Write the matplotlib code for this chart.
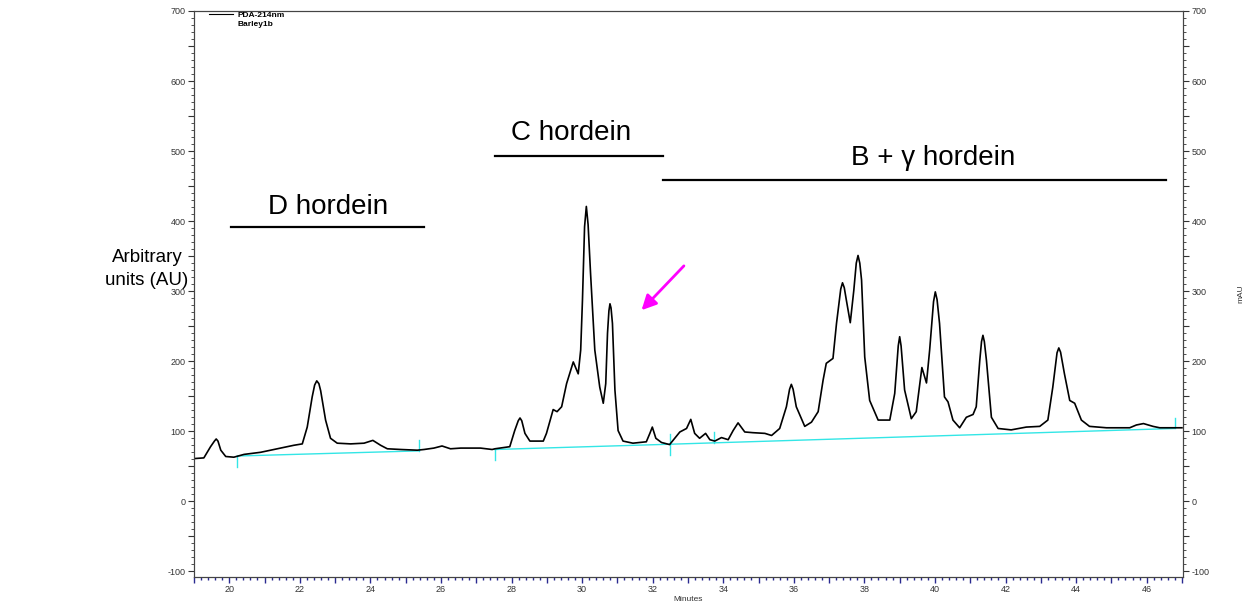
import numpy as np
import matplotlib.pyplot as plt
from matplotlib.ticker import MultipleLocator, FuncFormatter
from matplotlib.lines import Line2D

plt.rcParams['font.family'] = ['Liberation Sans', 'DejaVu Sans']

# chromatogram trace (minutes, mAU)
minutes = [19.00, 19.28, 19.47, 19.58, 19.63, 19.68, 19.76, 19.90, 20.13, 20.42,
           20.89, 21.36, 21.83, 22.07, 22.21, 22.35, 22.42, 22.48, 22.54, 22.59,
           22.73, 22.87, 23.06, 23.44, 23.82, 24.07, 24.29, 24.48, 24.86, 25.33,
           25.52, 25.80, 26.03, 26.27, 26.56, 27.12, 27.45, 27.53, 27.95, 28.09,
           28.19, 28.24, 28.29, 28.38, 28.52, 28.90, 28.99, 29.18, 29.29, 29.42,
           29.56, 29.75, 29.89, 29.96, 30.01, 30.07, 30.12, 30.17, 30.24, 30.36,
           30.50, 30.60, 30.67, 30.72, 30.76, 30.79, 30.82, 30.86, 30.93, 31.02,
           31.16, 31.44, 31.82, 31.92, 31.99, 32.09, 32.25, 32.48, 32.77, 32.96,
           33.08, 33.19, 33.33, 33.50, 33.62, 33.76, 33.95, 34.14, 34.28, 34.42,
           34.61, 34.84, 35.18, 35.37, 35.60, 35.79, 35.88, 35.93, 35.98, 36.07,
           36.31, 36.50, 36.69, 36.83, 36.92, 37.11, 37.21, 37.33, 37.38, 37.43,
           37.49, 37.60, 37.70, 37.77, 37.82, 37.87, 37.92, 38.01, 38.15, 38.39,
           38.72, 38.86, 38.96, 39.00, 39.04, 39.14, 39.33, 39.47, 39.63, 39.76,
           39.85, 39.96, 40.01, 40.06, 40.13, 40.27, 40.37, 40.51, 40.70, 40.89,
           41.08, 41.17, 41.27, 41.32, 41.36, 41.40, 41.46, 41.60, 41.79, 42.16,
           42.59, 42.97, 43.20, 43.34, 43.46, 43.51, 43.56, 43.67, 43.82, 43.96,
           44.15, 44.38, 44.86, 45.52, 45.71, 45.91, 46.18, 46.37, 47.00]
mau = [61, 62, 78, 86, 89, 86, 73, 64, 63, 67,
       70, 75, 80, 82, 106, 149, 166, 172, 168, 158,
       116, 90, 83, 82, 83, 87, 80, 75, 74, 73,
       74, 76, 79, 75, 76, 76, 74, 75, 78, 101,
       115, 119, 115, 97, 86, 86, 97, 131, 128, 135,
       168, 199, 182, 216, 287, 392, 421, 395, 325, 216,
       163, 140, 168, 240, 272, 282, 276, 254, 159, 101,
       86, 83, 85, 97, 106, 90, 84, 81, 99, 104,
       117, 97, 90, 97, 88, 86, 91, 88, 101, 112,
       99, 98, 97, 94, 104, 135, 160, 167, 160, 135,
       107, 113, 128, 173, 197, 204, 254, 303, 312, 305,
       287, 255, 301, 340, 351, 340, 316, 206, 144, 116,
       116, 154, 222, 235, 222, 159, 118, 128, 191, 169,
       216, 285, 299, 288, 254, 149, 142, 116, 105, 120,
       124, 135, 201, 228, 237, 228, 201, 120, 104, 102,
       106, 107, 116, 163, 212, 219, 213, 182, 144, 140,
       116, 107, 105, 105, 109, 111, 107, 105, 105]

# integration baseline (cyan), gap between segments as nan
base_t = [20.23, 25.37, np.nan, 27.53, 32.48, 46.79]
base_v = [64.7, 72.0, np.nan, 74.0, 81.5, 104.0]

# peak event marks on the baseline: position, level, direction
event_t = [20.23, 25.37, 27.53, 32.48, 32.48, 33.74, 46.79]
event_v = [64.7, 72.0, 74.0, 81.5, 81.5, 83.3, 104.0]
event_dir = [-1, 1, -1, -1, 1, 1, 1]

# hordein groups
groups = ['D hordein', 'C hordein', 'B + \u03b3 hordein']
group_start = [20.05, 27.53, 32.28]
group_end = [25.52, 32.28, 46.56]
group_level = [391, 493, 459]
label_t = [22.8, 29.7, 39.96]
label_v = [420, 526, 490]

arrow_tail = (32.94, 339)
arrow_head = (31.63, 270)

fig = plt.figure(figsize=(12.45, 6.14), dpi=100)
ax = fig.add_axes([0.1558, 0.0603, 0.7944, 0.9218])

ax.plot(base_t, base_v, color='#33e6e6', lw=1.0, zorder=2)
for t, v, d in zip(event_t, event_v, event_dir):
    ax.plot([t, t], [v, v + d * 15], color='#33e6e6', lw=1.0, zorder=2)

ax.plot(minutes, mau, color='black', lw=1.2, zorder=3)

for name, s, e, lvl, lt, lv in zip(groups, group_start, group_end, group_level, label_t, label_v):
    ax.plot([s, e], [lvl, lvl], color='black', lw=1.6)
    ax.text(lt, lv, name, ha='center', va='center', fontsize=20)

ax.annotate('', xy=arrow_head, xytext=arrow_tail,
            arrowprops=dict(arrowstyle='-|>', color='#ff00ff', lw=2, mutation_scale=22))

ax.set_xlim(19.0, 47.03)
ax.set_ylim(-108, 700)

even_fmt = FuncFormatter(lambda x, p: f'{x:.0f}' if round(x) % 2 == 0 else '')
hund_fmt = FuncFormatter(lambda y, p: f'{y:.0f}' if round(y) % 100 == 0 else '')

ax.xaxis.set_major_locator(MultipleLocator(1))
ax.xaxis.set_minor_locator(MultipleLocator(0.2))
ax.xaxis.set_major_formatter(even_fmt)
ax.tick_params(axis='x', which='major', length=4, width=1, color='#2a2a90',
               labelsize=6.5, labelcolor='#333333', pad=2)
ax.tick_params(axis='x', which='minor', length=2.5, width=1, color='#2a2a90')

ax2 = ax.twinx()
ax2.set_ylim(ax.get_ylim())
for a in (ax, ax2):
    a.yaxis.set_major_locator(MultipleLocator(50))
    a.yaxis.set_minor_locator(MultipleLocator(10))
    a.yaxis.set_major_formatter(hund_fmt)
    a.tick_params(axis='y', which='major', length=4, color='#333333',
                  labelsize=6.5, labelcolor='#333333', pad=2)
    a.tick_params(axis='y', which='minor', length=2, color='#333333')
    for sp in a.spines.values():
        sp.set_color('#444444')

ax.set_xlabel('Minutes', fontsize=6, color='#333333', labelpad=1)
ax2.set_ylabel('mAU', fontsize=6, color='#333333')
ax2.yaxis.set_label_coords(1.055, 0.5)

fig.text(147 / 1245, 1 - 269 / 614, 'Arbitrary\nunits (AU)', ha='center', va='center',
         fontsize=13.5, linespacing=1.45)

handles = [Line2D([0], [0], color='black', lw=0.8), Line2D([], [], color='none')]
ax.legend(handles, ['PDA-214nm', 'Barley1b'], loc='upper left', bbox_to_anchor=(0.012, 1.005),
          frameon=False, prop={'weight': 'bold', 'size': 6}, handlelength=2.8,
          handletextpad=0.6, labelspacing=0.15, borderaxespad=0)

fig.savefig('out.png', dpi=100)
